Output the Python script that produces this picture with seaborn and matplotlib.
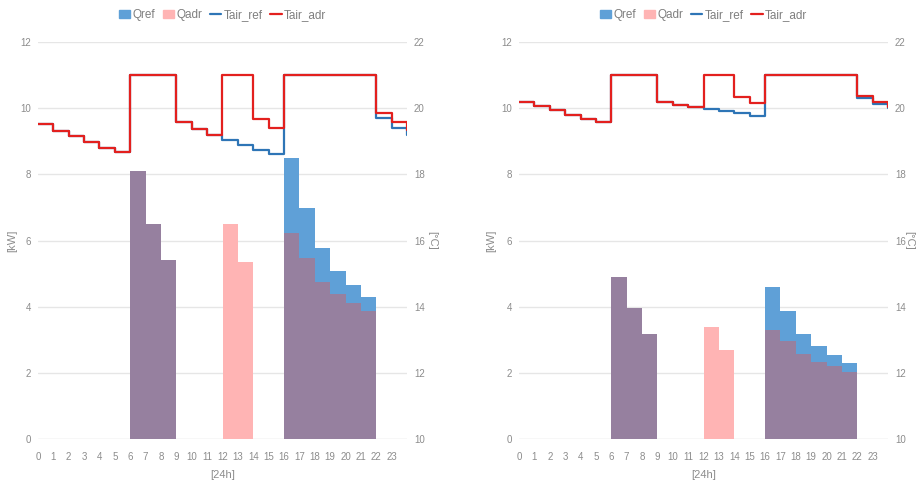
import numpy as np
import pandas as pd
import seaborn as sns
import matplotlib.pyplot as plt
from matplotlib.patches import Patch
from matplotlib.lines import Line2D

# hourly values (last entry = value at end of day, 24h)
hours = np.arange(25)

# left case
qref_a = [0, 0, 0, 0, 0, 0, 8.1, 6.5, 5.4, 0, 0, 0, 0, 0, 0, 0,
          8.5, 6.97, 5.76, 5.09, 4.66, 4.29, 0, 0, 0]
qadr_a = [0, 0, 0, 0, 0, 0, 8.1, 6.5, 5.4, 0, 0, 0, 6.5, 5.35, 0, 0,
          6.22, 5.46, 4.76, 4.39, 4.1, 3.88, 0, 0, 0]
tref_a = [19.52, 19.32, 19.15, 18.97, 18.8, 18.67, 21, 21, 21, 19.58, 19.38, 19.2,
          19.05, 18.9, 18.75, 18.6, 21, 21, 21, 21, 21, 21, 19.7, 19.4, 19.2]
tadr_a = [19.52, 19.32, 19.15, 18.97, 18.8, 18.67, 21, 21, 21, 19.58, 19.38, 19.2,
          21, 21, 19.67, 19.4, 21, 21, 21, 21, 21, 21, 19.85, 19.57, 19.35]

# right case
qref_b = [0, 0, 0, 0, 0, 0, 4.91, 3.95, 3.17, 0, 0, 0, 0, 0, 0, 0,
          4.59, 3.87, 3.17, 2.8, 2.54, 2.29, 0, 0, 0]
qadr_b = [0, 0, 0, 0, 0, 0, 4.91, 3.95, 3.17, 0, 0, 0, 3.38, 2.7, 0, 0,
          3.28, 2.95, 2.57, 2.34, 2.21, 2.04, 0, 0, 0]
tref_b = [20.2, 20.07, 19.93, 19.8, 19.68, 19.58, 21, 21, 21, 20.18, 20.1, 20.03,
          19.98, 19.9, 19.85, 19.75, 21, 21, 21, 21, 21, 21, 20.3, 20.12, 20.0]
tadr_b = [20.2, 20.07, 19.93, 19.8, 19.68, 19.58, 21, 21, 21, 20.18, 20.1, 20.03,
          21, 21, 20.33, 20.17, 21, 21, 21, 21, 21, 21, 20.37, 20.18, 20.05]

hour_labels = [str(h) for h in range(24)]

c_ref = '#5fa0d7'
c_adr = '#ffb4b4'
c_both = '#96809f'
c_lref = '#2e75b6'
c_ladr = '#e3201e'
c_text = '#8c8c8c'

sns.set_style('white')
plt.rcParams['font.family'] = ['Liberation Sans Narrow', 'Liberation Sans', 'DejaVu Sans']

fig = plt.figure(figsize=(9.16, 4.88), dpi=100)


def draw_panel(left, qref, qadr, tref, tadr, lab_left, lab_right):
    ax = fig.add_axes([left, 1 - 439 / 488, 369 / 916, 397 / 488])
    qref = np.array(qref, dtype=float)
    qadr = np.array(qadr, dtype=float)
    ax.fill_between(hours, 0, qref, step='post', color=c_ref, lw=0)
    ax.fill_between(hours, 0, qadr, step='post', color=c_adr, lw=0)
    ax.fill_between(hours, 0, np.minimum(qref, qadr), step='post', color=c_both, lw=0)
    ax.set_xlim(0, 24)
    ax.set_ylim(0, 12)
    ax.set_yticks(range(0, 13, 2))
    ax.set_xticks(range(24))
    ax.set_xticklabels(hour_labels)
    for y in range(2, 13, 2):
        ax.axhline(y, color='#e6e6e6', lw=1, zorder=0)
    ax.axhline(0, color='#d9d9d9', lw=1, zorder=0)
    sns.despine(ax=ax, left=True, bottom=True)
    ax.tick_params(axis='both', colors=c_text, labelsize=7, length=0)
    ax.tick_params(axis='x', pad=9)
    ax.tick_params(axis='y', pad=5)
    ax.set_ylabel('[kW]', color=c_text, fontsize=8)
    ax.yaxis.set_label_coords(lab_left, 0.5)
    ax.set_xlabel('[24h]', color=c_text, fontsize=8, labelpad=6)

    ax2 = ax.twinx()
    sns.lineplot(x=hours, y=tref, ax=ax2, color=c_lref, lw=1.6, drawstyle='steps-post')
    sns.lineplot(x=hours, y=tadr, ax=ax2, color=c_ladr, lw=1.6, drawstyle='steps-post')
    ax2.set_ylim(10, 22)
    ax2.set_xlim(0, 24)
    ax2.set_yticks(range(10, 23, 2))
    sns.despine(ax=ax2, left=True, bottom=True, right=True)
    ax2.tick_params(axis='y', colors=c_text, labelsize=7, length=0, pad=5)
    ax2.set_ylabel('[°C]', color=c_text, fontsize=8, rotation=270, va='center')
    ax2.yaxis.set_label_coords(lab_right, 0.5)

    handles = [Patch(color=c_ref, label='Qref'), Patch(color=c_adr, label='Qadr'),
               Line2D([], [], color=c_lref, lw=1.6, label='Tair_ref'),
               Line2D([], [], color=c_ladr, lw=1.6, label='Tair_adr')]
    cx = left + 0.5 * 369 / 916
    leg = fig.legend(handles=handles, loc='center', bbox_to_anchor=(cx, 1 - 15 / 488),
                     ncol=4, frameon=False, fontsize=8.5, handlelength=1.0,
                     handletextpad=0.2, columnspacing=0.6)
    for t in leg.get_texts():
        t.set_color('#7f7f7f')


draw_panel(38 / 916, qref_a, qadr_a, tref_a, tadr_a, -0.057, 1.068)
draw_panel(519 / 916, qref_b, qadr_b, tref_b, tadr_b, -0.062, 1.057)

fig.savefig('out.png', dpi=100)
